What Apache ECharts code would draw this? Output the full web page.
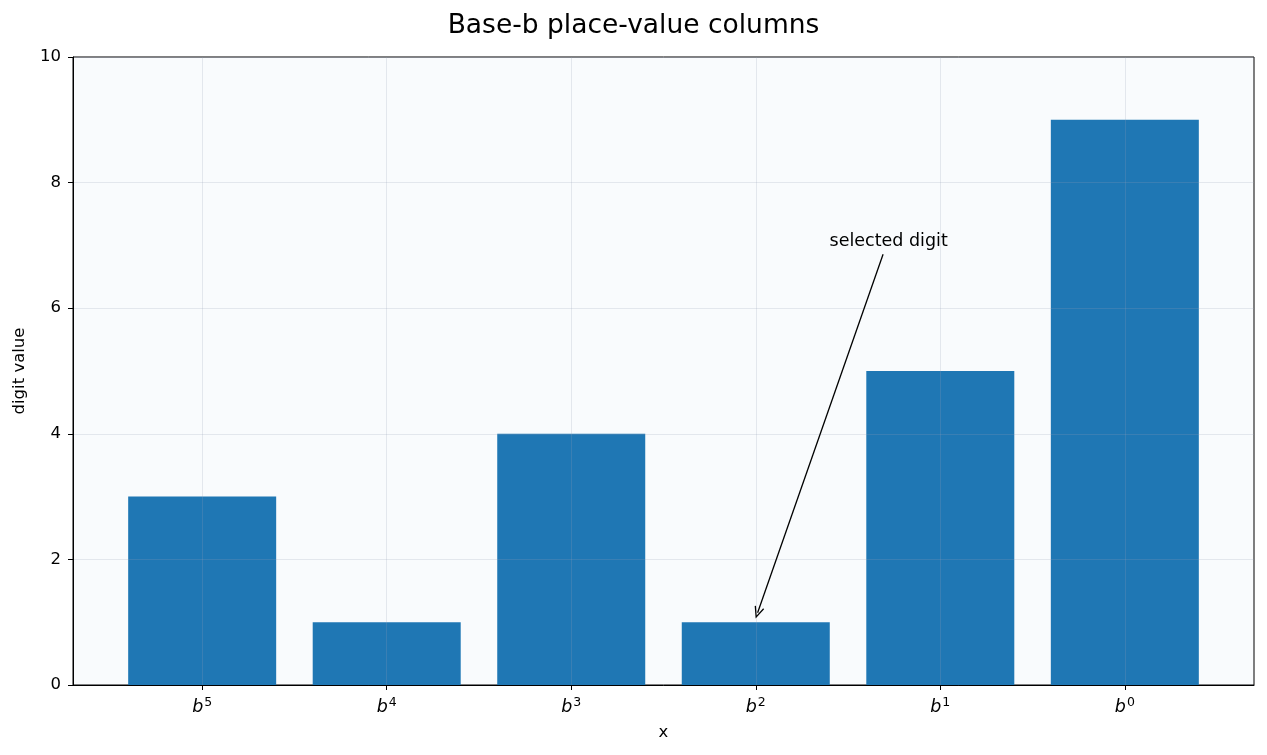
<!DOCTYPE html>
<html>
<head>
<meta charset="utf-8">
<script src="https://cdn.jsdelivr.net/npm/echarts@6/dist/echarts.min.js"></script>
<style>
  html, body { margin: 0; padding: 0; background: #fff; }
  #chart { width: 1267px; height: 755px; }
</style>
</head>
<body>
<div id="chart"></div>
<script>
var dom = document.getElementById('chart');
var myChart = echarts.init(dom, null, { renderer: 'canvas' });

// place-value columns, most significant first
const powers = ['5', '4', '3', '2', '1', '0'];
const digits = [3, 1, 4, 1, 5, 9];
const positions = [0, 1, 2, 3, 4, 5];
const yTicks = [0, 2, 4, 6, 8, 10];

// annotation: text position and arrow target
const noteText = 'selected digit';
const notePos = [3.72, 7.07];
const arrowFrom = [3.69, 6.86];
const arrowTo = [3.01, 1.15];

const barColor = '#1f77b4';
const gridColor = 'rgba(150,160,180,0.22)';
const font = 'DejaVu Sans';

var barData = positions.map(function (p, i) { return [p, digits[i]]; });

var option = {
  animation: false,
  backgroundColor: '#fff',
  textStyle: { fontFamily: font },
  title: {
    text: 'Base-b place-value columns',
    left: 'center',
    top: 8,
    textStyle: { fontFamily: font, fontSize: 26.5, fontWeight: 'normal', color: '#000' }
  },
  grid: {
    left: 73, right: 13, top: 57, bottom: 70,
    show: true,
    backgroundColor: '#f9fbfd',
    borderColor: '#000',
    borderWidth: 1
  },
  xAxis: {
    type: 'value',
    min: -0.7,
    max: 5.7,
    z: 5,
    name: 'x',
    nameLocation: 'middle',
    nameGap: 39,
    nameTextStyle: { fontFamily: font, fontSize: 16.5, color: '#000' },
    axisLine: { show: true, onZero: false, lineStyle: { color: '#000', width: 1 } },
    axisTick: { show: true, length: 5, lineStyle: { color: '#000' }, customValues: positions },
    axisLabel: {
      customValues: positions,
      margin: 11,
      formatter: function (v) {
        var i = positions.indexOf(Math.round(v));
        return '{b|b}{s|' + powers[i] + '}';
      },
      rich: {
        b: { fontFamily: font, fontStyle: 'italic', fontSize: 17.5, color: '#000' },
        s: { fontFamily: font, fontSize: 12.5, color: '#000', padding: [0, 0, 10, 1] }
      }
    },
    splitLine: { show: true, lineStyle: { color: gridColor, width: 1 } }
  },
  yAxis: {
    type: 'value',
    min: 0,
    max: 10,
    interval: 2,
    z: 5,
    name: 'digit value',
    nameLocation: 'middle',
    nameGap: 45,
    nameTextStyle: { fontFamily: font, fontSize: 16.5, color: '#000' },
    axisLine: { show: true, onZero: false, lineStyle: { color: '#000', width: 1 } },
    axisTick: { show: true, length: 5, lineStyle: { color: '#000' } },
    axisLabel: {
      customValues: yTicks,
      margin: 12,
      fontFamily: font, fontSize: 16.5, color: '#000'
    },
    splitLine: { show: true, lineStyle: { color: gridColor, width: 1 } }
  },
  series: [
    {
      name: 'digits',
      type: 'bar',
      data: barData,
      barWidth: 148,
      z: 1,
      itemStyle: { color: barColor },
      markLine: {
        silent: true,
        symbol: ['none', 'path://M5,0 L10,11 L8.8,11.6 L5,3 L1.2,11.6 L0,11 Z'],
        symbolSize: [10, 12],
        label: { show: false },
        lineStyle: { color: '#000', width: 1.3, type: 'solid' },
        data: [[{ coord: arrowFrom }, { coord: arrowTo }]]
      }
    },
    {
      name: 'note',
      type: 'scatter',
      data: [notePos],
      symbolSize: 0,
      z: 6,
      itemStyle: { opacity: 1 },
      label: {
        show: true,
        position: 'inside',
        formatter: noteText,
        fontFamily: font,
        fontSize: 17.5,
        color: '#000'
      }
    }
  ]
};

myChart.setOption(option);
window.addEventListener('resize', myChart.resize);
</script>
</body>
</html>
